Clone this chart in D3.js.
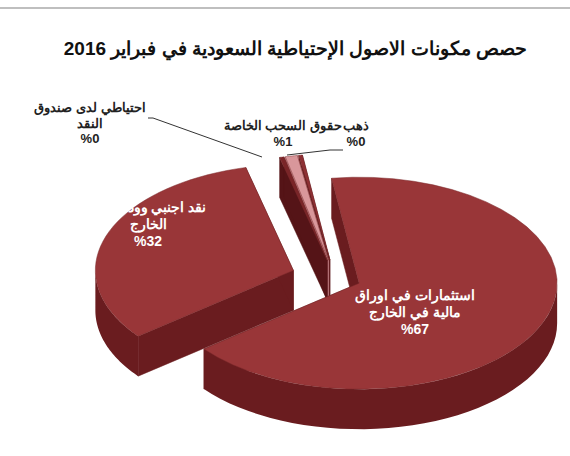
<!DOCTYPE html>
<html lang="ar">
<head>
<meta charset="UTF-8">
<script src="https://d3js.org/d3.v7.min.js"></script>
<style>
  body { margin: 0; background: #fff; }
  text { font-family: Arial, "Liberation Sans", sans-serif; font-weight: bold; }
</style>
</head>
<body>
<svg width="570" height="456"></svg>
<script>
// data, clockwise from near 12 o'clock
const categories = ["استثمارات في اوراق مالية في الخارج", "نقد اجنبي وودائع في الخارج", "احتياطي لدى صندوق النقد", "حقوق السحب الخاصة", "ذهب"];
const values = [67, 32, 0.35, 1, 0.3];
const pctLabels = ["%67", "%32", "%0", "%1", "%0"];

const svg = d3.select("svg");
const cx = 335, cy = 278, rx = 198, ry = 106, depth = 40;
const rot = -8 * Math.PI / 180;
const topCol = ["#993638", "#993638", "#7a2528", "#d9979b", "#8e3034"];
const sideCol = ["#6a1c1f", "#6a1c1f", "#551417", "#b9767a", "#5e1a1d"];
const explode = [26, 44, 34, 34, 34];

svg.append("line").attr("x1", 0).attr("x2", 570).attr("y1", 8).attr("y2", 8)
  .attr("stroke", "#aaa").attr("stroke-width", 1.5);
svg.append("text").attr("x", 527).attr("y", 55).attr("text-anchor", "start")
  .attr("direction", "rtl").attr("font-size", 19).attr("fill", "#111")
  .text("حصص مكونات الاصول الإحتياطية السعودية في فبراير 2016");

const tot = d3.sum(values);
let acc = 0;
const slices = values.map((v, i) => {
  const s = rot + acc / tot * 2 * Math.PI; acc += v;
  const e = rot + acc / tot * 2 * Math.PI;
  const m = (s + e) / 2;
  return { i, s, e, m, ox: Math.sin(m) * explode[i], oy: -Math.cos(m) * explode[i] * ry / rx };
});
const pt = (sl, a, dz = 0) => [cx + sl.ox + rx * Math.sin(a), cy + sl.oy - ry * Math.cos(a) + dz];
const ctr = (sl, dz = 0) => [cx + sl.ox, cy + sl.oy + dz];
const line = d3.line();
const arcPts = (sl, a0, a1, dz) => d3.range(0, 41).map(k => pt(sl, a0 + (a1 - a0) * k / 40, dz));

const order = slices.slice().sort((a, b) => (-Math.cos(a.m)) - (-Math.cos(b.m)));
order.forEach(sl => {
  const g = svg.append("g");
  [sl.s, sl.e].forEach(a => {
    const p = pt(sl, a), c = ctr(sl);
    g.append("path").attr("d", line([c, p, [p[0], p[1] + depth], [c[0], c[1] + depth]]) + "Z")
      .attr("fill", sideCol[sl.i]).attr("stroke", sideCol[sl.i]).attr("stroke-width", 0.5);
  });
  const a0 = Math.max(sl.s, Math.PI / 2), a1 = Math.min(sl.e, Math.PI * 1.5);
  if (a1 > a0) {
    const top = arcPts(sl, a0, a1, 0), bot = arcPts(sl, a1, a0, depth);
    g.append("path").attr("d", line(top.concat(bot)) + "Z").attr("fill", sideCol[sl.i]);
  }
  g.append("path").attr("d", line([ctr(sl)].concat(arcPts(sl, sl.s, sl.e, 0))) + "Z")
    .attr("fill", topCol[sl.i]).attr("stroke", "#7d2a2c").attr("stroke-width", 0.5);
});

function label(x, y, lines, color, size) {
  const t = svg.append("text").attr("x", x).attr("y", y).attr("text-anchor", "middle")
    .attr("font-size", size).attr("fill", color);
  lines.forEach((l, k) => t.append("tspan").attr("x", x).attr("dy", k ? size * 1.2 : 0).text(l));
}
label(415, 300, ["استثمارات في اوراق", "مالية في الخارج", pctLabels[0]], "#fff", 14);
label(148, 212, ["نقد اجنبي وودائع في", "الخارج", pctLabels[1]], "#fff", 14);
label(90, 112, ["احتياطي لدى صندوق", "النقد", pctLabels[2]], "#222", 13);
label(283, 130, [categories[3], pctLabels[3]], "#222", 13);
label(356, 130, ["ذهب", pctLabels[4]], "#222", 13);

const lead = [[[148, 118], [153, 118], [262, 157]], [[343, 150], [330, 150], [287, 155]]];
lead.forEach(p => svg.append("path").attr("d", line(p)).attr("fill", "none").attr("stroke", "#333"));
</script>
</body>
</html>
